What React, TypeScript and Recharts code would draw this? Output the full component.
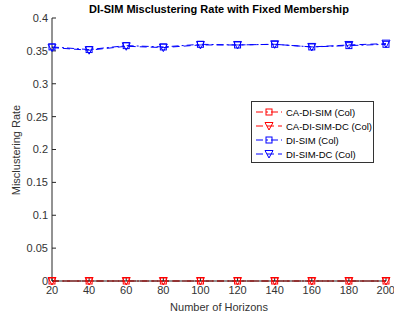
import React from 'react';
import { LineChart, Line, XAxis, YAxis } from 'recharts';

const horizons = [20, 40, 60, 80, 100, 120, 140, 160, 180, 200];
const caDiSim = [0, 0, 0, 0, 0, 0, 0, 0, 0, 0];
const caDiSimDc = [0, 0, 0, 0, 0, 0, 0, 0, 0, 0];
const diSim = [0.356, 0.352, 0.358, 0.356, 0.36, 0.359, 0.36, 0.356, 0.358, 0.36];
const diSimDc = [0.355, 0.351, 0.357, 0.355, 0.359, 0.359, 0.36, 0.356, 0.359, 0.361];
const yTicks = [0, 0.05, 0.1, 0.15, 0.2, 0.25, 0.3, 0.35, 0.4];

const data = horizons.map((h, i) => ({
  h,
  caDiSim: caDiSim[i],
  caDiSimDc: caDiSimDc[i],
  diSim: diSim[i],
  diSimDc: diSimDc[i],
}));

const FONT = '"Liberation Sans", Arial, sans-serif';
const DASHDOT = '7 3 2 3';
const DASHED = '7 4';

const SquareDot = (props: any) => {
  const { cx, cy, stroke } = props;
  if (cx == null || cy == null) return null;
  return <rect x={cx - 3} y={cy - 3} width={6} height={6} fill="none" stroke={stroke} strokeWidth={1} />;
};

const TriDot = (props: any) => {
  const { cx, cy, stroke } = props;
  if (cx == null || cy == null) return null;
  return (
    <path
      d={`M${cx - 4},${cy - 3.5} L${cx + 4},${cy - 3.5} L${cx},${cy + 4} Z`}
      fill="none"
      stroke={stroke}
      strokeWidth={1}
    />
  );
};

const series = [
  { key: 'caDiSim', name: 'CA-DI-SIM (Col)', color: '#ff0000', dash: DASHDOT, marker: 'sq' },
  { key: 'caDiSimDc', name: 'CA-DI-SIM-DC (Col)', color: '#ff0000', dash: DASHED, marker: 'tri' },
  { key: 'diSim', name: 'DI-SIM (Col)', color: '#0000ff', dash: DASHDOT, marker: 'sq' },
  { key: 'diSimDc', name: 'DI-SIM-DC (Col)', color: '#0000ff', dash: DASHED, marker: 'tri' },
];

const LegendBox = () => (
  <div
    style={{
      position: 'absolute',
      left: 251,
      top: 101,
      width: 123,
      height: 62,
      boxSizing: 'border-box',
      border: '1px solid #333',
      background: '#fff',
      padding: '3px 0 0 2px',
      fontFamily: FONT,
      fontSize: 9.5,
      color: '#000',
      whiteSpace: 'nowrap',
    }}
  >
    {series.map((s) => (
      <div key={s.key} style={{ display: 'flex', alignItems: 'center', height: 14 }}>
        <svg width={30} height={10} style={{ marginRight: 2, flex: 'none' }}>
          <line x1={2} y1={5} x2={28} y2={5} stroke={s.color} strokeDasharray={s.dash} />
          {s.marker === 'sq' ? (
            <SquareDot cx={15} cy={5} stroke={s.color} />
          ) : (
            <TriDot cx={15} cy={5} stroke={s.color} />
          )}
        </svg>
        <span>{s.name}</span>
      </div>
    ))}
  </div>
);

const tickStyle = { fontFamily: FONT, fontSize: 11, fill: '#333' };

export default function App() {
  return (
    <div style={{ position: 'fixed', left: 0, top: 0, width: 394, height: 318, background: '#fff' }}>
      <LineChart width={394} height={318} data={data} margin={{ top: 18, right: 8, left: 0, bottom: 0 }}>
        <text x={219} y={13} textAnchor="middle" fontFamily={FONT} fontSize={11} fontWeight="bold" fill="#000">
          DI-SIM Misclustering Rate with Fixed Membership
        </text>
        <text
          x={20}
          y={150}
          textAnchor="middle"
          fontFamily={FONT}
          fontSize={11}
          fill="#333"
          transform="rotate(-90 20 150)"
        >
          Misclustering Rate
        </text>
        <text x={219} y={311} textAnchor="middle" fontFamily={FONT} fontSize={11} fill="#333">
          Number of Horizons
        </text>
        <XAxis
          xAxisId="b"
          dataKey="h"
          type="number"
          domain={[20, 200]}
          ticks={horizons}
          height={37}
          tickSize={-4}
          tickMargin={9}
          tick={tickStyle}
          stroke="#262626"
        />
        <XAxis
          xAxisId="t"
          dataKey="h"
          type="number"
          orientation="top"
          domain={[20, 200]}
          ticks={horizons}
          height={0}
          tickSize={-4}
          tick={() => <g />}
          stroke="#262626"
        />
        <YAxis
          yAxisId="l"
          domain={[0, 0.4]}
          ticks={yTicks}
          width={52}
          tickSize={-4}
          tickMargin={8}
          tick={tickStyle}
          tickFormatter={(v: number) => String(v)}
          stroke="#262626"
        />
        <YAxis
          yAxisId="r"
          orientation="right"
          domain={[0, 0.4]}
          ticks={yTicks}
          width={0}
          tickSize={-4}
          tick={() => <g />}
          stroke="#262626"
        />
        {series.map((s) => (
          <Line
            key={s.key}
            xAxisId="b"
            yAxisId="l"
            dataKey={s.key}
            name={s.name}
            stroke={s.color}
            strokeWidth={1}
            strokeDasharray={s.dash}
            dot={s.marker === 'sq' ? <SquareDot /> : <TriDot />}
            isAnimationActive={false}
          />
        ))}
      </LineChart>
      <LegendBox />
    </div>
  );
}
